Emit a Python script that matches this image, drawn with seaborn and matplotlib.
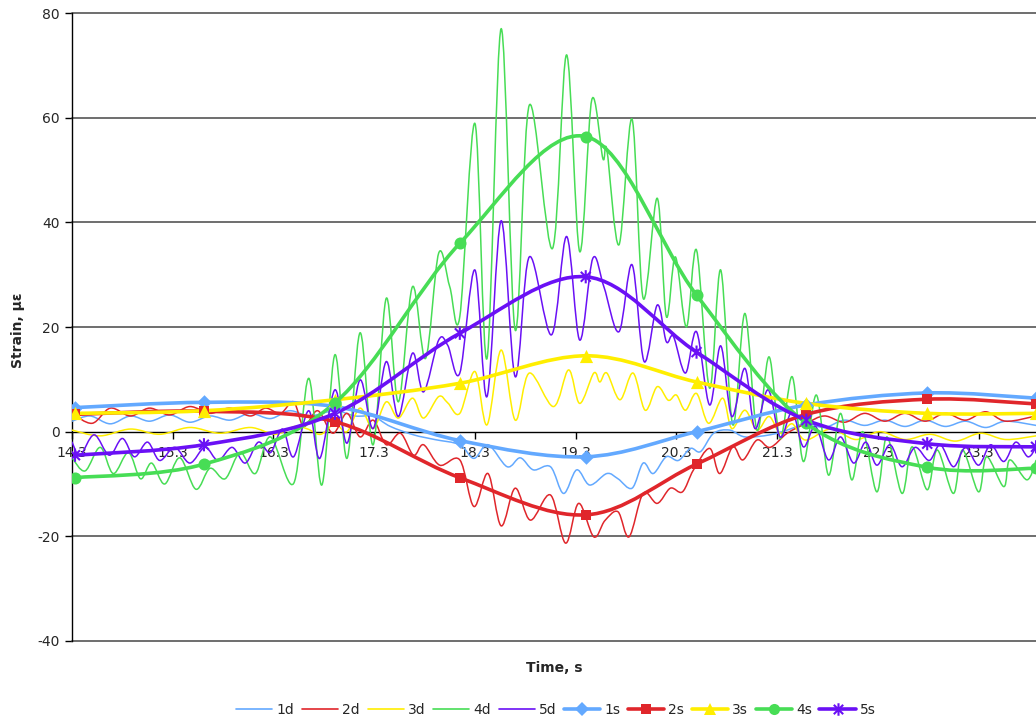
import numpy as np
import pandas as pd
import matplotlib
matplotlib.use("Agg")
import matplotlib.pyplot as plt
from matplotlib.path import Path
from matplotlib.patches import PathPatch
from matplotlib.lines import Line2D
import seaborn as sns

# ---------------- data ----------------
t_1d = [14.30, 14.48, 14.68, 14.88, 15.07, 15.27, 15.47, 15.67, 15.87, 16.07, 16.27, 16.46, 16.66, 16.91,
        17.11, 17.29, 17.46, 17.69, 17.90, 18.15, 18.29, 18.43, 18.62, 18.75, 18.88, 19.05, 19.18, 19.31,
        19.44, 19.61, 19.72, 19.86, 19.97, 20.07, 20.20, 20.32, 20.44, 20.54, 20.67, 20.83, 20.98, 21.23,
        21.43, 21.59, 21.77, 21.97, 22.17, 22.37, 22.57, 22.77, 22.97, 23.17, 23.37, 23.57, 23.87]
v_1d = [2.0, 3.0, 1.5, 3.0, 2.0, 3.2, 1.8, 3.0, 2.2, 3.5, 2.5, 4.0, 3.0, 4.0,
        3.0, 2.9, 1.0, -0.6, -1.5, -2.5, -5.1, -2.5, -6.7, -5.0, -7.3, -6.7, -11.8, -7.3,
        -10.2, -8.0, -9.0, -10.8, -6.0, -8.0, -4.8, -5.5, -3.2, -3.8, -0.3, 0.3, -1.0, -0.6,
        0.5, 1.6, 0.8, 2.2, 1.2, 2.2, 1.0, 2.2, 1.0, 2.0, 0.8, 2.0, 1.2]

t_2d = [14.30, 14.50, 14.68, 14.88, 15.07, 15.27, 15.47, 15.67, 15.87, 16.07, 16.22, 16.37, 16.50, 16.60,
        16.74, 16.89, 17.03, 17.16, 17.29, 17.42, 17.56, 17.69, 17.79, 17.95, 18.15, 18.29, 18.43, 18.56,
        18.70, 18.85, 19.05, 19.20, 19.33, 19.48, 19.59, 19.72, 19.83, 19.97, 20.11, 20.24, 20.36, 20.47,
        20.63, 20.73, 20.86, 20.96, 21.10, 21.23, 21.40, 21.59, 21.77, 21.97, 22.17, 22.37, 22.57, 22.77,
        22.97, 23.17, 23.37, 23.57, 23.87]
v_2d = [3.5, 1.6, 4.5, 3.0, 4.5, 3.2, 4.8, 3.5, 4.5, 3.0, 4.5, 3.5, 5.7, 1.0,
        4.0, -0.3, 3.5, -1.0, 2.2, -2.5, -0.3, -4.5, -2.5, -6.4, -5.4, -14.3, -8.0, -18.0,
        -10.8, -16.9, -12.1, -21.3, -13.7, -20.1, -17.0, -15.3, -20.1, -11.8, -13.7, -10.8, -11.5, -7.3,
        -3.2, -8.0, -2.9, -5.4, -1.6, -3.0, -0.3, 1.6, 3.0, 1.8, 3.5, 2.0, 3.5, 2.0,
        3.5, 2.2, 3.8, 2.0, 3.0]

t_3d = [14.30, 14.58, 14.88, 15.17, 15.47, 15.77, 16.07, 16.32, 16.51, 16.64, 16.77, 16.91, 17.03, 17.16,
        17.29, 17.42, 17.54, 17.68, 17.79, 17.94, 18.03, 18.15, 18.30, 18.42, 18.56, 18.70, 18.84, 19.08,
        19.23, 19.34, 19.48, 19.54, 19.61, 19.74, 19.87, 19.99, 20.11, 20.22, 20.30, 20.39, 20.50, 20.62,
        20.76, 20.85, 20.98, 21.10, 21.22, 21.33, 21.45, 21.58, 21.83, 22.08, 22.32, 22.57, 22.82, 23.07,
        23.32, 23.57, 23.87]
v_3d = [0.3, -0.8, 0.5, -0.5, 0.8, -0.3, 0.8, -0.5, 1.0, 0.5, -0.5, 1.5, 0.0, 4.5,
        0.6, 5.7, 2.6, 6.4, 2.6, 6.7, 5.5, 3.5, 11.5, 1.3, 15.6, 2.2, 11.2, 4.8,
        11.8, 5.4, 11.2, 9.5, 11.2, 6.1, 11.2, 4.1, 8.6, 6.0, 7.0, 4.1, 7.3, 1.6,
        6.4, 0.6, 4.1, 0.3, 2.9, -0.3, 1.5, -1.6, 0.5, -1.5, 0.0, -1.5, -0.5, -1.8,
        -0.3, -1.5, -0.8]

t_4d = [14.30, 14.43, 14.58, 14.71, 14.86, 14.98, 15.09, 15.22, 15.37, 15.53, 15.67, 15.82, 15.97, 16.12,
        16.27, 16.50, 16.65, 16.78, 16.91, 17.03, 17.16, 17.29, 17.42, 17.54, 17.68, 17.81, 17.94, 18.05,
        18.15, 18.30, 18.42, 18.56, 18.70, 18.84, 19.07, 19.21, 19.34, 19.46, 19.57, 19.61, 19.73, 19.86,
        19.97, 20.11, 20.20, 20.29, 20.40, 20.50, 20.63, 20.74, 20.86, 20.98, 21.10, 21.22, 21.33, 21.45,
        21.56, 21.69, 21.81, 21.93, 22.04, 22.15, 22.29, 22.39, 22.54, 22.64, 22.79, 22.89, 23.05, 23.14,
        23.30, 23.38, 23.55, 23.61, 23.78, 23.87]
v_4d = [-5.0, -7.5, -3.0, -8.0, -4.0, -9.0, -6.0, -10.0, -5.0, -11.0, -7.0, -9.0, -4.0, -8.0,
        -1.0, -9.9, 10.2, -10.2, 14.7, -5.1, 18.9, -2.5, 25.5, 5.7, 27.7, 14.0, 34.1, 27.7,
        22.0, 58.9, 14.0, 77.0, 19.4, 62.4, 35.0, 72.0, 34.4, 63.4, 52.2, 53.8, 35.7, 59.7,
        25.5, 44.6, 22.0, 33.4, 20.0, 34.7, 8.3, 30.9, 1.3, 22.6, 0.3, 14.3, -1.3, 10.5,
        -5.7, 7.0, -8.3, 3.5, -9.2, 0.0, -11.5, -1.0, -11.8, -2.9, -11.1, -3.5, -11.8, -3.5,
        -11.5, -4.8, -10.5, -5.4, -9.2, -5.5]

t_5d = [14.30, 14.38, 14.52, 14.67, 14.80, 14.92, 15.05, 15.17, 15.32, 15.47, 15.62, 15.75, 15.89, 16.02,
        16.15, 16.27, 16.39, 16.50, 16.65, 16.76, 16.91, 17.03, 17.16, 17.29, 17.42, 17.54, 17.68, 17.79,
        17.94, 18.03, 18.15, 18.30, 18.42, 18.56, 18.70, 18.84, 19.06, 19.21, 19.34, 19.47, 19.58, 19.73,
        19.86, 19.98, 20.11, 20.20, 20.27, 20.39, 20.50, 20.63, 20.74, 20.85, 20.98, 21.08, 21.21, 21.33,
        21.45, 21.56, 21.68, 21.81, 21.93, 22.06, 22.18, 22.29, 22.42, 22.54, 22.67, 22.81, 22.92, 23.05,
        23.17, 23.30, 23.42, 23.55, 23.67, 23.79, 23.87]
v_5d = [-2.0, -4.5, -0.6, -4.5, -1.3, -4.8, -2.0, -5.5, -3.0, -6.0, -3.0, -5.5, -3.0, -6.0,
        -2.0, -4.0, 0.5, -4.8, 4.0, -5.1, 8.0, -2.2, 9.9, 0.6, 13.4, 2.9, 15.0, 7.6,
        17.5, 16.5, 11.2, 30.9, 6.7, 40.3, 10.5, 33.4, 18.5, 37.3, 17.5, 33.1, 27.7, 19.1,
        31.9, 13.4, 24.2, 17.2, 18.2, 11.2, 19.1, 5.1, 16.4, 2.9, 12.1, 0.6, 8.0, -1.0,
        3.8, -2.9, 1.0, -5.4, -1.0, -6.0, -2.0, -6.4, -2.5, -6.7, -3.0, -5.5, -2.5, -6.7,
        -3.0, -6.4, -2.5, -5.7, -2.0, -4.8, -3.0]

t_s = [14.33, 15.61, 16.91, 18.15, 19.40, 20.50, 21.59, 22.79, 23.87]
v_1s = [4.6, 5.6, 4.8, -1.7, -4.8, 0.0, 5.1, 7.4, 6.4]
v_2s = [3.3, 3.9, 1.9, -8.8, -15.9, -6.2, 3.3, 6.2, 5.3]
v_3s = [3.5, 4.0, 6.1, 9.25, 14.5, 9.5, 5.4, 3.5, 3.5]
v_4s = [-8.8, -6.2, 5.5, 36.0, 56.4, 26.1, 1.6, -6.8, -7.0]
v_5s = [-4.5, -2.5, 3.5, 18.8, 29.6, 15.2, 2.2, -2.3, -2.9]

x_ticks = [14.3, 15.3, 16.3, 17.3, 18.3, 19.3, 20.3, 21.3, 22.3, 23.3]
y_ticks = [-40, -20, 0, 20, 40, 60, 80]

names_d = ["1d", "2d", "3d", "4d", "5d"]
names_s = ["1s", "2s", "3s", "4s", "5s"]
colors = ["#63A9FF", "#E0262B", "#FFEE00", "#47DD55", "#6A10F5"]

# ---------------- style ----------------
sns.set_theme(style="white")
plt.rcParams["font.family"] = ["DejaVu Sans"]
plt.rcParams["font.size"] = 10

fig = plt.figure(figsize=(10.36, 7.21), dpi=100)
ax = fig.add_axes([72 / 1036, 1 - 641 / 721, 1 - 72 / 1036, (641 - 13) / 721])


def smooth_path(xs, ys):
    pts = np.column_stack([np.asarray(xs, float), np.asarray(ys, float)])
    n = len(pts)
    verts = [pts[0]]
    codes = [Path.MOVETO]
    for i in range(n - 1):
        p0 = pts[i - 1] if i > 0 else pts[i]
        p1 = pts[i]
        p2 = pts[i + 1]
        p3 = pts[i + 2] if i + 2 < n else pts[i + 1]
        verts += [p1 + (p2 - p0) / 6.0, p2 - (p3 - p1) / 6.0, p2]
        codes += [Path.CURVE4] * 3
    return Path(verts, codes)


d_t = [t_1d, t_2d, t_3d, t_4d, t_5d]
d_v = [v_1d, v_2d, v_3d, v_4d, v_5d]
s_v = [v_1s, v_2s, v_3s, v_4s, v_5s]

for k in range(5):
    ax.add_patch(PathPatch(smooth_path(d_t[k], d_v[k]), fill=False, edgecolor=colors[k],
                           lw=1.1, zorder=3 + k * 0.01, capstyle="round", joinstyle="round"))

star = Path([(0, -1), (0, 1), (-0.75, -0.75), (0.75, 0.75), (-0.75, 0.75), (0.75, -0.75)],
            [Path.MOVETO, Path.LINETO, Path.MOVETO, Path.LINETO, Path.MOVETO, Path.LINETO])
markers = ["D", "s", "^", "o", star]
msizes = [55, 50, 90, 75, 90]

for k in range(5):
    ax.add_patch(PathPatch(smooth_path(t_s, s_v[k]), fill=False, edgecolor=colors[k],
                           lw=2.6, zorder=4 + k * 0.01, capstyle="round", joinstyle="round"))
    df = pd.DataFrame({"t": t_s, "v": s_v[k]})
    if k == 4:
        sns.scatterplot(data=df, x="t", y="v", marker=star, s=msizes[k], facecolor="none",
                        edgecolor=colors[k], linewidth=1.5, ax=ax, zorder=5 + k * 0.01)
    else:
        sns.scatterplot(data=df, x="t", y="v", marker=markers[k], s=msizes[k], color=colors[k],
                        edgecolor=colors[k], linewidth=0, ax=ax, zorder=5 + k * 0.01)

ax.set_xlim(14.3, 23.87)
ax.set_ylim(-40, 80)
ax.set_yticks(y_ticks)
ax.set_yticklabels([str(v) for v in y_ticks])
ax.set_xticks(x_ticks)
ax.set_xticklabels([f"{v:.1f}" for v in x_ticks])

ax.grid(False)
for yv in y_ticks:
    if yv != 0:
        ax.axhline(yv, color="#555555", lw=1.2, zorder=1, clip_on=False)

for side in ["top", "right"]:
    ax.spines[side].set_visible(False)
ax.spines["left"].set_color("black")
ax.spines["left"].set_linewidth(1.0)
ax.spines["bottom"].set_position(("data", 0))
ax.spines["bottom"].set_color("black")
ax.spines["bottom"].set_linewidth(1.0)
ax.spines["bottom"].set_zorder(2)

ax.tick_params(axis="y", direction="out", length=5, width=1, color="black", labelsize=10, pad=4,
               left=True)
ax.tick_params(axis="x", direction="out", length=5, width=1, color="black", labelsize=10, pad=5,
               bottom=True)

ax.set_xlabel("")
ax.set_ylabel("")
fig.text(554 / 1036, 1 - 668 / 721, "Time, s", ha="center", va="center", fontsize=10,
         fontweight="bold")
fig.text(18 / 1036, 1 - 330 / 721, "Strain, \u03bc\u03b5", ha="center", va="center", fontsize=10,
         fontweight="bold", rotation=90)

handles = []
for k in range(5):
    handles.append(Line2D([], [], color=colors[k], lw=1.2))
leg_markers = ["D", "s", "^", "o", star]
leg_ms = [7, 7, 9, 8, 9]
for k in range(5):
    if k == 4:
        handles.append(Line2D([], [], color=colors[k], lw=2.6, marker=star, markersize=leg_ms[k],
                              markerfacecolor="none", markeredgecolor=colors[k], markeredgewidth=1.5))
    else:
        handles.append(Line2D([], [], color=colors[k], lw=2.6, marker=leg_markers[k],
                              markersize=leg_ms[k], markeredgewidth=0))
fig.legend(handles, names_d + names_s, loc="center", bbox_to_anchor=(556 / 1036, 1 - 710 / 721),
           ncol=10, frameon=False, fontsize=10, handlelength=2.6, handletextpad=0.3,
           columnspacing=0.55, borderaxespad=0)

fig.savefig("out.png", dpi=100)
